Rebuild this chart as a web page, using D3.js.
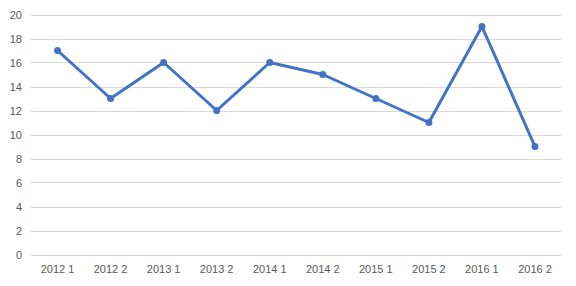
<!DOCTYPE html>
<html>
<head>
<meta charset="utf-8">
<script src="https://cdn.jsdelivr.net/npm/d3@7"></script>
<style>
  body { margin: 0; background: #fff; }
  text { font-family: "Liberation Sans", Arial, sans-serif; font-size: 11px; fill: #595959; }
</style>
</head>
<body>
<svg id="chart" width="576" height="286"></svg>
<script>
var categories = ["2012 1", "2012 2", "2013 1", "2013 2", "2014 1", "2014 2", "2015 1", "2015 2", "2016 1", "2016 2"];
var values = [17, 13, 16, 12, 16, 15, 13, 11, 19, 9];
var yTicks = [0, 2, 4, 6, 8, 10, 12, 14, 16, 18, 20];

var ctx = { left: 31, right: 561.5, top: 14.5, bottom: 254.5 };
var svgEl = d3.select("#chart");

var x = d3.scaleBand().domain(categories).range([ctx.left, ctx.right]);
var y = d3.scaleLinear().domain([0, 20]).range([ctx.bottom, ctx.top]);

// gridlines
svgEl.append("g")
    .selectAll("line")
    .data(yTicks)
    .enter()
    .append("line")
    .attr("x1", ctx.left)
    .attr("x2", ctx.right)
    .attr("y1", d => Math.round(y(d)) + 0.5)
    .attr("y2", d => Math.round(y(d)) + 0.5)
    .attr("stroke", "#d9d9d9")
    .attr("stroke-width", 1);

// y labels
svgEl.append("g")
    .selectAll("text")
    .data(yTicks)
    .enter()
    .append("text")
    .attr("x", 22)
    .attr("y", d => y(d) + 4)
    .attr("text-anchor", "end")
    .text(d => d);

// x labels
svgEl.append("g")
    .selectAll("text")
    .data(categories)
    .enter()
    .append("text")
    .attr("x", d => x(d) + x.bandwidth() / 2)
    .attr("y", 273)
    .attr("text-anchor", "middle")
    .text(d => d);

var line = d3.line()
    .x((d, i) => x(categories[i]) + x.bandwidth() / 2)
    .y(d => y(d));

svgEl.append("path")
    .datum(values)
    .attr("d", line)
    .attr("fill", "none")
    .attr("stroke", "#4472c4")
    .attr("stroke-width", 3)
    .attr("stroke-linejoin", "round");

svgEl.append("g")
    .selectAll("circle")
    .data(values)
    .enter()
    .append("circle")
    .attr("cx", (d, i) => x(categories[i]) + x.bandwidth() / 2)
    .attr("cy", d => y(d))
    .attr("r", 3.5)
    .attr("fill", "#4472c4");
</script>
</body>
</html>
